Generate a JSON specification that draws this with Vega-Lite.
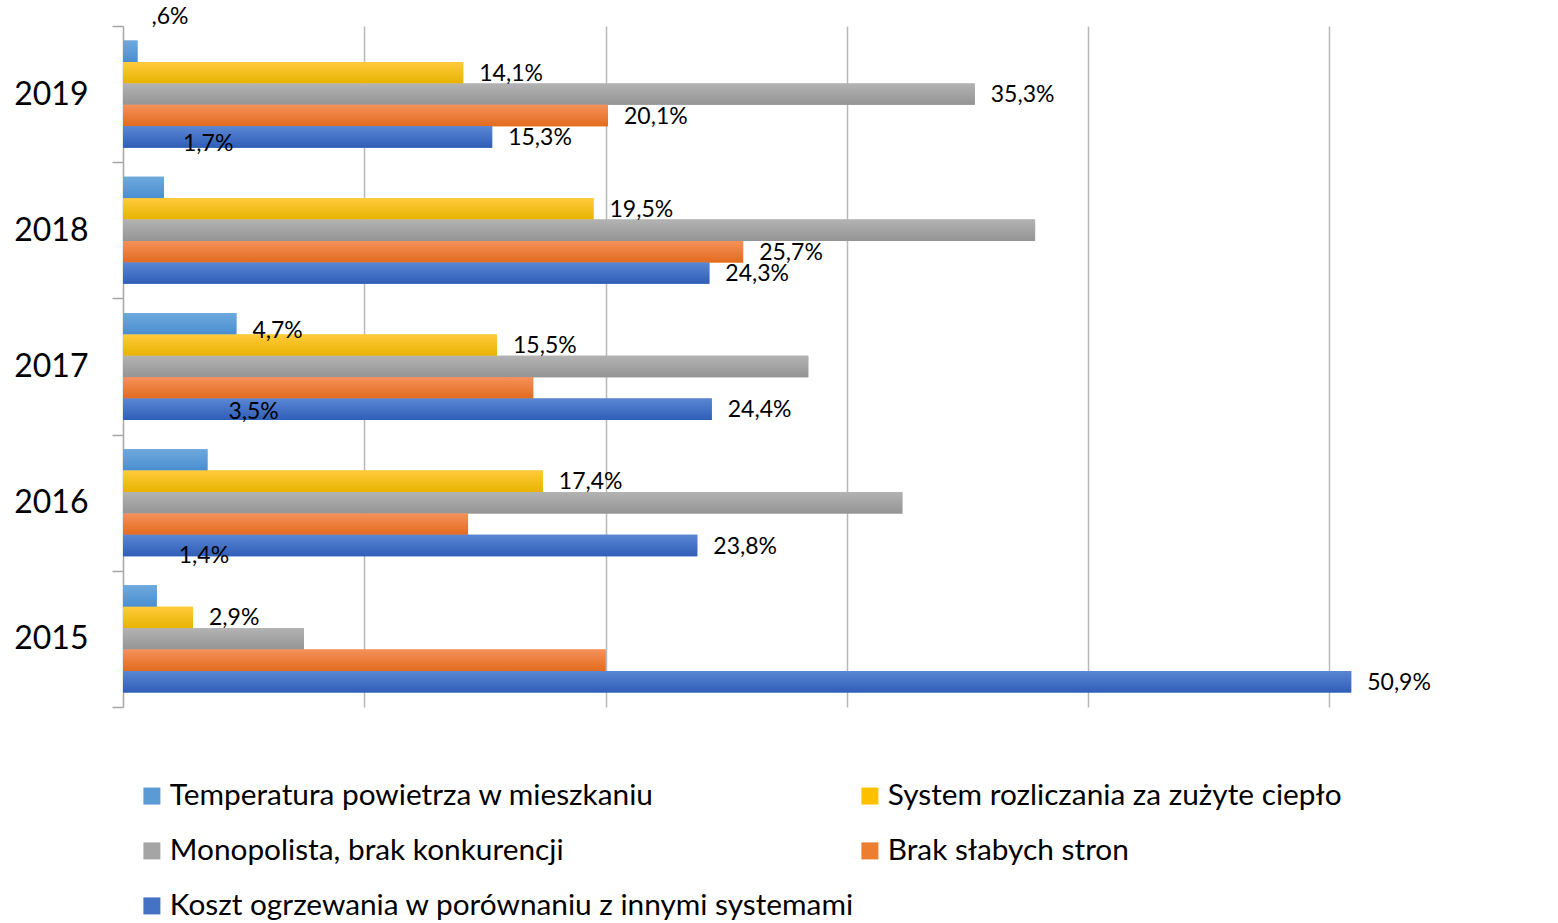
{
  "$schema": "https://vega.github.io/schema/vega-lite/v6.json",
  "autosize": {"type": "none"},
  "width": 1435,
  "height": 681,
  "padding": {"left": 123, "top": 26, "right": 0, "bottom": 216},
  "background": "white",
  "config": {
    "view": {"stroke": null},
    "font": "Lato",
    "legend": {"padding": 0}
  },
  "data": {
    "values": [
      {"year": 2019, "series": "Temperatura powietrza w mieszkaniu", "value": 0.6, "label": ",6%"},
      {"year": 2019, "series": "System rozliczania za zużyte ciepło", "value": 14.1, "label": "14,1%"},
      {"year": 2019, "series": "Monopolista, brak konkurencji", "value": 35.3, "label": "35,3%"},
      {"year": 2019, "series": "Brak słabych stron", "value": 20.1, "label": "20,1%"},
      {"year": 2019, "series": "Koszt ogrzewania w porównaniu z innymi systemami", "value": 15.3, "label": "15,3%"},
      {"year": 2018, "series": "Temperatura powietrza w mieszkaniu", "value": 1.7, "label": "1,7%"},
      {"year": 2018, "series": "System rozliczania za zużyte ciepło", "value": 19.5, "label": "19,5%"},
      {"year": 2018, "series": "Monopolista, brak konkurencji", "value": 37.8, "label": null},
      {"year": 2018, "series": "Brak słabych stron", "value": 25.7, "label": "25,7%"},
      {"year": 2018, "series": "Koszt ogrzewania w porównaniu z innymi systemami", "value": 24.3, "label": "24,3%"},
      {"year": 2017, "series": "Temperatura powietrza w mieszkaniu", "value": 4.7, "label": "4,7%"},
      {"year": 2017, "series": "System rozliczania za zużyte ciepło", "value": 15.5, "label": "15,5%"},
      {"year": 2017, "series": "Monopolista, brak konkurencji", "value": 28.4, "label": null},
      {"year": 2017, "series": "Brak słabych stron", "value": 17.0, "label": null},
      {"year": 2017, "series": "Koszt ogrzewania w porównaniu z innymi systemami", "value": 24.4, "label": "24,4%"},
      {"year": 2016, "series": "Temperatura powietrza w mieszkaniu", "value": 3.5, "label": "3,5%"},
      {"year": 2016, "series": "System rozliczania za zużyte ciepło", "value": 17.4, "label": "17,4%"},
      {"year": 2016, "series": "Monopolista, brak konkurencji", "value": 32.3, "label": null},
      {"year": 2016, "series": "Brak słabych stron", "value": 14.3, "label": null},
      {"year": 2016, "series": "Koszt ogrzewania w porównaniu z innymi systemami", "value": 23.8, "label": "23,8%"},
      {"year": 2015, "series": "Temperatura powietrza w mieszkaniu", "value": 1.4, "label": "1,4%"},
      {"year": 2015, "series": "System rozliczania za zużyte ciepło", "value": 2.9, "label": "2,9%"},
      {"year": 2015, "series": "Monopolista, brak konkurencji", "value": 7.5, "label": null},
      {"year": 2015, "series": "Brak słabych stron", "value": 20.0, "label": null},
      {"year": 2015, "series": "Koszt ogrzewania w porównaniu z innymi systemami", "value": 50.9, "label": "50,9%"}
    ]
  },
  "encoding": {
    "y": {
      "field": "year", "type": "ordinal",
      "scale": {"domain": [2019, 2018, 2017, 2016, 2015], "paddingInner": 0, "paddingOuter": 0},
      "axis": {
        "title": null, "tickBand": "extent", "domainColor": "#A6A6A6", "domainWidth": 1.5,
        "tickColor": "#A6A6A6", "tickWidth": 1.5, "tickSize": 11, "labelPadding": 24,
        "labelFont": "Lato", "labelFontSize": 32, "labelColor": "#000000", "grid": false
      }
    },
    "yOffset": {
      "field": "series", "type": "nominal",
      "scale": {"domain": ["Temperatura powietrza w mieszkaniu", "System rozliczania za zużyte ciepło", "Monopolista, brak konkurencji", "Brak słabych stron", "Koszt ogrzewania w porównaniu z innymi systemami"], "paddingInner": 0, "paddingOuter": 0.68}
    },
    "x": {
      "field": "value", "type": "quantitative",
      "scale": {"domain": [0, 59.47], "nice": false, "zero": true},
      "axis": {"title": null, "labels": false, "ticks": false, "domain": false, "grid": true, "values": [10, 20, 30, 40, 50], "gridColor": "#B8B8B8", "gridWidth": 1.5}
    }
  },
  "layer": [
    {
      "mark": {"type": "bar"},
      "encoding": {
        "color": {
          "field": "series", "type": "nominal",
          "scale": {"domain": ["Temperatura powietrza w mieszkaniu", "System rozliczania za zużyte ciepło", "Monopolista, brak konkurencji", "Brak słabych stron", "Koszt ogrzewania w porównaniu z innymi systemami"],
                    "range": ["#5B9BD5", "#FFC000", "#A5A5A5", "#ED7D31", "#4472C4"]},
          "legend": {
            "title": null, "orient": "none", "legendX": 14, "legendY": 755, "direction": "horizontal", "columns": 2,
            "columnPadding": 0, "rowPadding": 24, "symbolType": "square", "symbolSize": 289, "symbolStrokeWidth": 0,
            "labelFont": "Lato", "labelFontSize": 29.8, "labelColor": "#000000", "labelOffset": 3, "labelLimit": 1000
          }
        }
      }
    },
    {
      "transform": [{"filter": "datum.series == 'Temperatura powietrza w mieszkaniu'"}],
      "mark": {"type": "bar", "color": {"gradient": "linear", "x1": 0, "y1": 0, "x2": 0, "y2": 1, "stops": [{"offset": 0, "color": "#6EA9DE"}, {"offset": 1, "color": "#4A8ED0"}]}}
    },
    {
      "transform": [{"filter": "datum.series == 'System rozliczania za zużyte ciepło'"}],
      "mark": {"type": "bar", "color": {"gradient": "linear", "x1": 0, "y1": 0, "x2": 0, "y2": 1, "stops": [{"offset": 0, "color": "#FFCB3C"}, {"offset": 1, "color": "#E8B300"}]}}
    },
    {
      "transform": [{"filter": "datum.series == 'Monopolista, brak konkurencji'"}],
      "mark": {"type": "bar", "color": {"gradient": "linear", "x1": 0, "y1": 0, "x2": 0, "y2": 1, "stops": [{"offset": 0, "color": "#B3B3B3"}, {"offset": 1, "color": "#949494"}]}}
    },
    {
      "transform": [{"filter": "datum.series == 'Brak słabych stron'"}],
      "mark": {"type": "bar", "color": {"gradient": "linear", "x1": 0, "y1": 0, "x2": 0, "y2": 1, "stops": [{"offset": 0, "color": "#F5915A"}, {"offset": 1, "color": "#E26B1E"}]}}
    },
    {
      "transform": [{"filter": "datum.series == 'Koszt ogrzewania w porównaniu z innymi systemami'"}],
      "mark": {"type": "bar", "color": {"gradient": "linear", "x1": 0, "y1": 0, "x2": 0, "y2": 1, "stops": [{"offset": 0, "color": "#5A86D3"}, {"offset": 1, "color": "#2F5EB8"}]}}
    },
    {
      "transform": [{"filter": "datum.label != null && datum.series != 'Temperatura powietrza w mieszkaniu'"}],
      "mark": {"type": "text", "align": "left", "baseline": "middle", "dx": 16, "dy": 1, "font": "Lato", "fontSize": 23, "color": "#000000"},
      "encoding": {"text": {"field": "label"}}
    },
    {
      "transform": [{"filter": "datum.series == 'Temperatura powietrza w mieszkaniu' && datum.year == 2017"}],
      "mark": {"type": "text", "align": "left", "baseline": "middle", "dx": 16, "dy": 7, "font": "Lato", "fontSize": 23, "color": "#000000"},
      "encoding": {"text": {"field": "label"}}
    },
    {
      "transform": [{"filter": "datum.series == 'Temperatura powietrza w mieszkaniu' && datum.year == 2019"}],
      "mark": {"type": "text", "align": "left", "baseline": "middle", "dx": 14, "dy": -34, "font": "Lato", "fontSize": 23, "color": "#000000"},
      "encoding": {"text": {"field": "label"}}
    },
    {
      "transform": [{"filter": "datum.series == 'Temperatura powietrza w mieszkaniu' && datum.year == 2018"}],
      "mark": {"type": "text", "align": "left", "baseline": "middle", "dx": 19, "dy": -43, "font": "Lato", "fontSize": 23, "color": "#000000"},
      "encoding": {"text": {"field": "label"}}
    },
    {
      "transform": [{"filter": "datum.series == 'Temperatura powietrza w mieszkaniu' && datum.year == 2016"}],
      "mark": {"type": "text", "align": "left", "baseline": "middle", "dx": 21, "dy": -48, "font": "Lato", "fontSize": 23, "color": "#000000"},
      "encoding": {"text": {"field": "label"}}
    },
    {
      "transform": [{"filter": "datum.series == 'Temperatura powietrza w mieszkaniu' && datum.year == 2015"}],
      "mark": {"type": "text", "align": "left", "baseline": "middle", "dx": 22, "dy": -40, "font": "Lato", "fontSize": 23, "color": "#000000"},
      "encoding": {"text": {"field": "label"}}
    }
  ]
}
